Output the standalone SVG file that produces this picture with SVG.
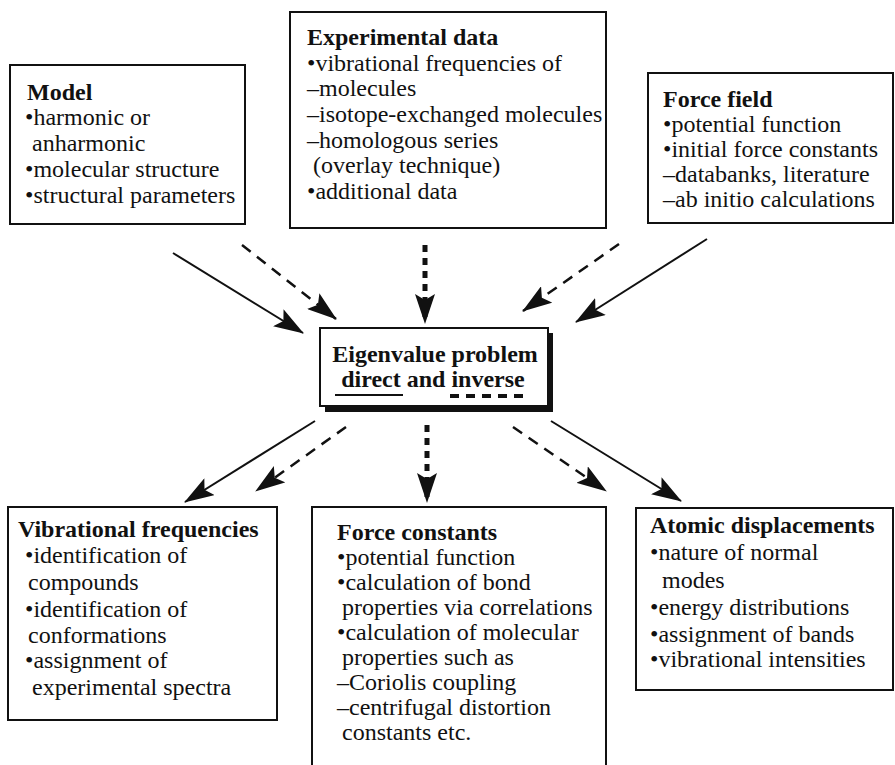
<svg xmlns="http://www.w3.org/2000/svg" width="895" height="765" viewBox="0 0 895 765">
<defs>
<style>
.box{fill:#fff;stroke:#111;stroke-width:2}
.t{font-family:"Liberation Serif","Times New Roman",serif;font-size:24px;fill:#111}
.h{font-weight:bold}
.sol{stroke:#111;stroke-width:2;fill:none}
.dsh{stroke:#111;stroke-width:2.5;fill:none;stroke-dasharray:11 8}
.vd{stroke:#111;stroke-width:5;fill:none;stroke-dasharray:7 6}
</style>
<marker id="ah" viewBox="0 0 30 20" refX="29" refY="10" markerWidth="30" markerHeight="20" markerUnits="userSpaceOnUse" orient="auto">
<path d="M0,0 L30,10 L0,20 L6,10 z" fill="#111"/>
</marker>
</defs>
<rect width="895" height="765" fill="#fff"/>

<g id="model">
<rect class="box" x="10" y="65" width="235" height="159"/>
<text class="t h" x="27" y="100">Model</text>
<text class="t" x="25" y="125">•harmonic or</text>
<text class="t" x="32" y="151">anharmonic</text>
<text class="t" x="25" y="177">•molecular structure</text>
<text class="t" x="25" y="203">•structural parameters</text>
</g>

<g id="experimental">
<rect class="box" x="290" y="12" width="316" height="216"/>
<text class="t h" x="307" y="45">Experimental data</text>
<text class="t" x="307" y="71">•vibrational frequencies of</text>
<text class="t" x="307" y="96">–molecules</text>
<text class="t" x="307" y="122">–isotope-exchanged molecules</text>
<text class="t" x="307" y="148">–homologous series</text>
<text class="t" x="313" y="173">(overlay technique)</text>
<text class="t" x="307" y="199">•additional data</text>
</g>

<g id="forcefield">
<rect class="box" x="648" y="73" width="245" height="150"/>
<text class="t h" x="663" y="107">Force field</text>
<text class="t" x="663" y="132">•potential function</text>
<text class="t" x="663" y="157">•initial force constants</text>
<text class="t" x="663" y="182">–databanks, literature</text>
<text class="t" x="663" y="207">–ab initio calculations</text>
</g>

<g id="eigen">
<rect x="325" y="333" width="228" height="79" fill="#111"/>
<rect class="box" x="320" y="328" width="228" height="78"/>
<text class="t h" x="435" y="362" text-anchor="middle">Eigenvalue problem</text>
<text class="t h" x="433" y="387" text-anchor="middle">direct and inverse</text>
<line x1="335" y1="395" x2="403" y2="395" stroke="#111" stroke-width="1.8"/>
<line x1="450" y1="396" x2="523" y2="396" stroke="#111" stroke-width="4" stroke-dasharray="9 7"/>
</g>

<g id="vibfreq">
<rect class="box" x="8" y="507" width="269" height="213"/>
<text class="t h" x="18" y="537">Vibrational frequencies</text>
<text class="t" x="25" y="563">•identification of</text>
<text class="t" x="28" y="590">compounds</text>
<text class="t" x="25" y="617">•identification of</text>
<text class="t" x="28" y="643">conformations</text>
<text class="t" x="25" y="668">•assignment of</text>
<text class="t" x="32" y="695">experimental spectra</text>
</g>

<g id="forceconst">
<rect class="box" x="312" y="507" width="294" height="275"/>
<text class="t h" x="337" y="540">Force constants</text>
<text class="t" x="337" y="565">•potential function</text>
<text class="t" x="337" y="590">•calculation of bond</text>
<text class="t" x="342" y="615">properties via correlations</text>
<text class="t" x="337" y="640">•calculation of molecular</text>
<text class="t" x="342" y="665">properties such as</text>
<text class="t" x="337" y="690">–Coriolis coupling</text>
<text class="t" x="337" y="715">–centrifugal distortion</text>
<text class="t" x="342" y="740">constants etc.</text>
</g>

<g id="atomic">
<rect class="box" x="636" y="508" width="257" height="182"/>
<text class="t h" x="650" y="533">Atomic displacements</text>
<text class="t" x="650" y="560">•nature of normal</text>
<text class="t" x="662" y="588">modes</text>
<text class="t" x="650" y="615">•energy distributions</text>
<text class="t" x="650" y="642">•assignment of bands</text>
<text class="t" x="650" y="667">•vibrational intensities</text>
</g>

<g id="connectors">
<line class="sol" x1="173" y1="253" x2="303" y2="333" marker-end="url(#ah)"/>
<line class="dsh" x1="242" y1="245" x2="336" y2="319" marker-end="url(#ah)"/>
<line class="vd" x1="425" y1="245" x2="425" y2="323" marker-end="url(#ah)"/>
<line class="dsh" x1="619" y1="244" x2="523" y2="311" marker-end="url(#ah)"/>
<line class="sol" x1="707" y1="239" x2="576" y2="322" marker-end="url(#ah)"/>
<line class="sol" x1="315" y1="421" x2="185" y2="502" marker-end="url(#ah)"/>
<line class="dsh" x1="346" y1="427" x2="256" y2="491" marker-end="url(#ah)"/>
<line class="vd" x1="427" y1="425" x2="427" y2="502" marker-end="url(#ah)"/>
<line class="dsh" x1="513" y1="427" x2="606" y2="491" marker-end="url(#ah)"/>
<line class="sol" x1="551" y1="421" x2="681" y2="501" marker-end="url(#ah)"/>
</g>
</svg>
